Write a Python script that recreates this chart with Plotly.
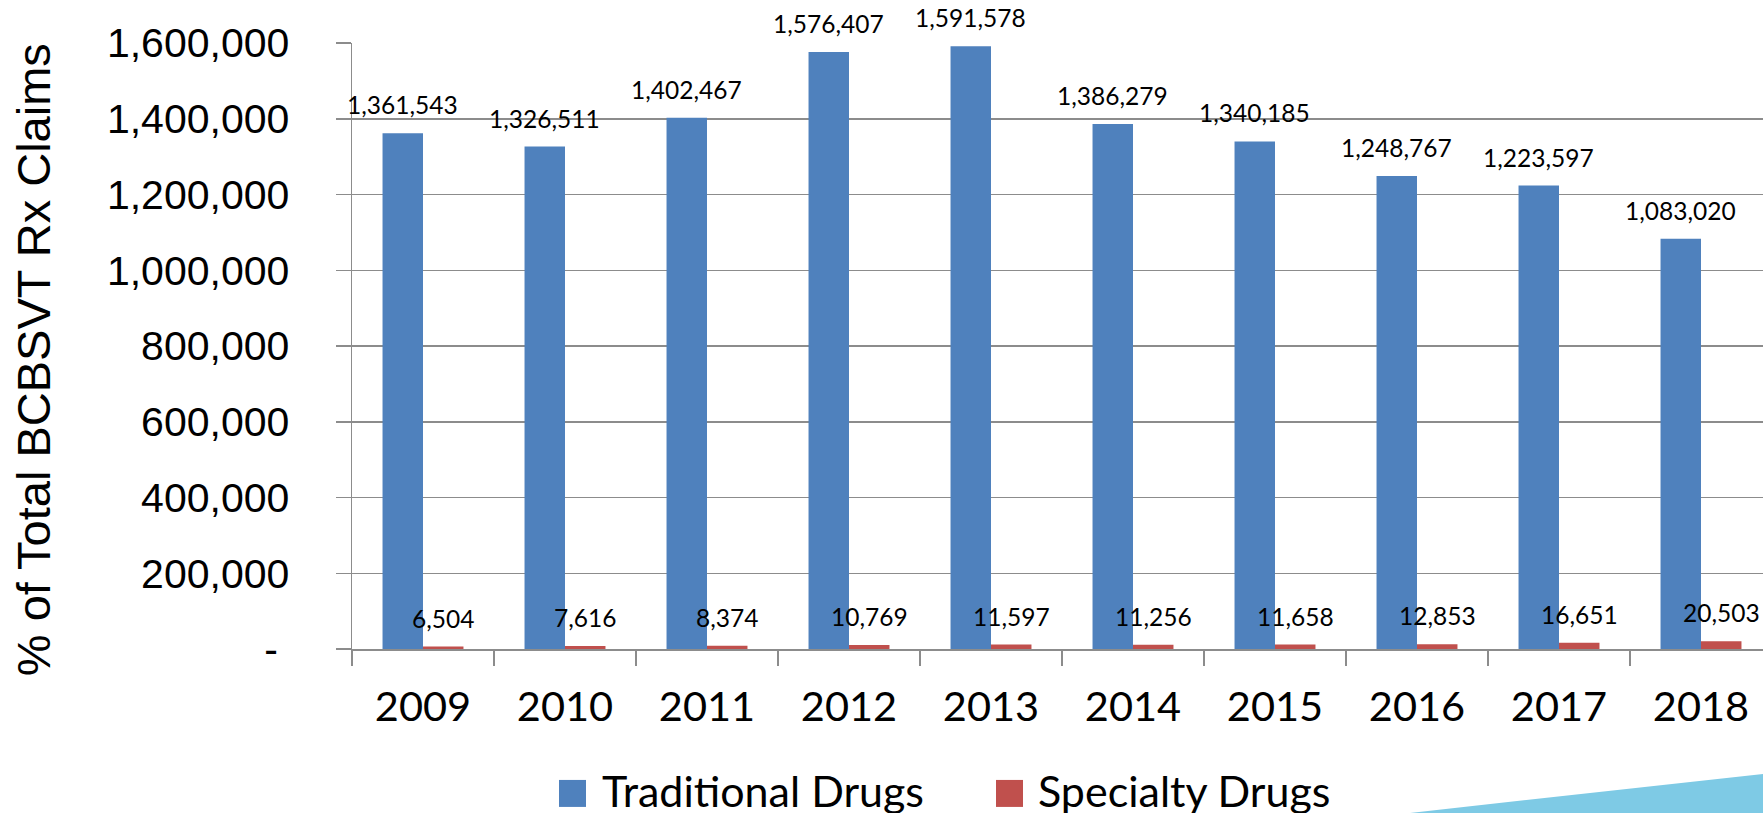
import plotly.graph_objects as go

years = ["2009", "2010", "2011", "2012", "2013", "2014", "2015", "2016", "2017", "2018"]
traditional = [1361543, 1326511, 1402467, 1576407, 1591578, 1386279, 1340185, 1248767, 1223597, 1083020]
specialty = [6504, 7616, 8374, 10769, 11597, 11256, 11658, 12853, 16651, 20503]
series_names = ["Traditional Drugs", "Specialty Drugs"]
series_colors = ["#4F81BD", "#C0504D"]
y_tick_values = [0, 200000, 400000, 600000, 800000, 1000000, 1200000, 1400000, 1600000]
y_tick_labels = ["-\u00a0", "200,000", "400,000", "600,000", "800,000", "1,000,000",
                 "1,200,000", "1,400,000", "1,600,000"]
y_title = "% of Total BCBSVT Rx Claims"

W, H = 1763, 813
L, T, B = 352, 42.7, 164
PW = W - L
PH = H - T - B
CAT = 142.0


def px_to_paper(px, py):
    return (px - L) / PW, (H - B - py) / PH


fig = go.Figure()
for name, vals, col in zip(series_names, [traditional, specialty], series_colors):
    fig.add_trace(go.Bar(x=years, y=vals, name=name, marker=dict(color=col, line=dict(width=0)),
                         cliponaxis=False, showlegend=False, hoverinfo="skip"))

label_font = dict(family="Lato", size=24.5, color="#000000")
half = CAT * (1 - 0.43) / 4
for vals, sh in [(traditional, -half), (specialty, half)]:
    for i, v in enumerate(vals):
        fig.add_annotation(x=i, y=v, xref="x", yref="y", text=f"{v:,}", showarrow=False,
                           xanchor="center", yanchor="bottom", xshift=sh, yshift=12,
                           font=label_font)

# y axis title
tx, ty = px_to_paper(33, 360)
fig.add_annotation(x=tx, y=ty, xref="paper", yref="paper", text=y_title, textangle=-90,
                   showarrow=False, xanchor="center", yanchor="middle",
                   font=dict(family="Liberation Sans", size=47, color="#000000"))

# custom legend
legend_items = [(559, 600), (996, 1036)]
for (sqx, txx), name, col in zip(legend_items, series_names, series_colors):
    x0, y0 = px_to_paper(sqx, 807)
    x1, y1 = px_to_paper(sqx + 27, 780)
    fig.add_shape(type="rect", xref="paper", yref="paper", x0=x0, y0=y0, x1=x1, y1=y1,
                  fillcolor=col, line=dict(width=0))
    ax, ay = px_to_paper(txx, 791)
    fig.add_annotation(x=ax, y=ay, xref="paper", yref="paper", text=name, showarrow=False,
                       xanchor="left", yanchor="middle",
                       font=dict(family="Lato", size=43, color="#000000"))

# decorative light blue wedge at bottom right
p1 = px_to_paper(1410, 813)
p2 = px_to_paper(1763, 774)
p3 = px_to_paper(1763, 813)
fig.add_shape(type="path", xref="paper", yref="paper",
              path=f"M {p1[0]} {p1[1]} L {p2[0]} {p2[1]} L {p3[0]} {p3[1]} Z",
              fillcolor="#7ECAE5", line=dict(width=0), layer="above")

fig.update_layout(
    width=W, height=H,
    margin=dict(l=L, r=0, t=T, b=B, pad=0),
    paper_bgcolor="white", plot_bgcolor="white",
    barmode="group", bargap=0.43, bargroupgap=0,
    hovermode=False,
    xaxis=dict(type="category", range=[-0.5, -0.5 + PW / CAT], showgrid=False,
               showline=True, linecolor="#8c8c8c", linewidth=1.5,
               ticks="outside", tickson="boundaries", ticklen=15, tickwidth=1.5,
               tickcolor="#8c8c8c", tickfont=dict(family="Lato", size=41.5, color="#000000"),
               ticklabelstandoff=21),
    yaxis=dict(range=[0, 1600000], tickvals=y_tick_values, ticktext=y_tick_labels,
               showgrid=True, gridcolor="#8c8c8c", gridwidth=1.5,
               showline=True, linecolor="#8c8c8c", linewidth=1.5,
               ticks="outside", ticklen=15, tickwidth=1.5, tickcolor="#8c8c8c",
               tickfont=dict(family="Liberation Sans", size=41, color="#000000"),
               ticklabelstandoff=38, zeroline=False),
)

fig.write_html("out.html", config={"displayModeBar": False, "staticPlot": True},
               post_script="document.body.style.margin='0px';document.body.style.overflow='hidden';")
